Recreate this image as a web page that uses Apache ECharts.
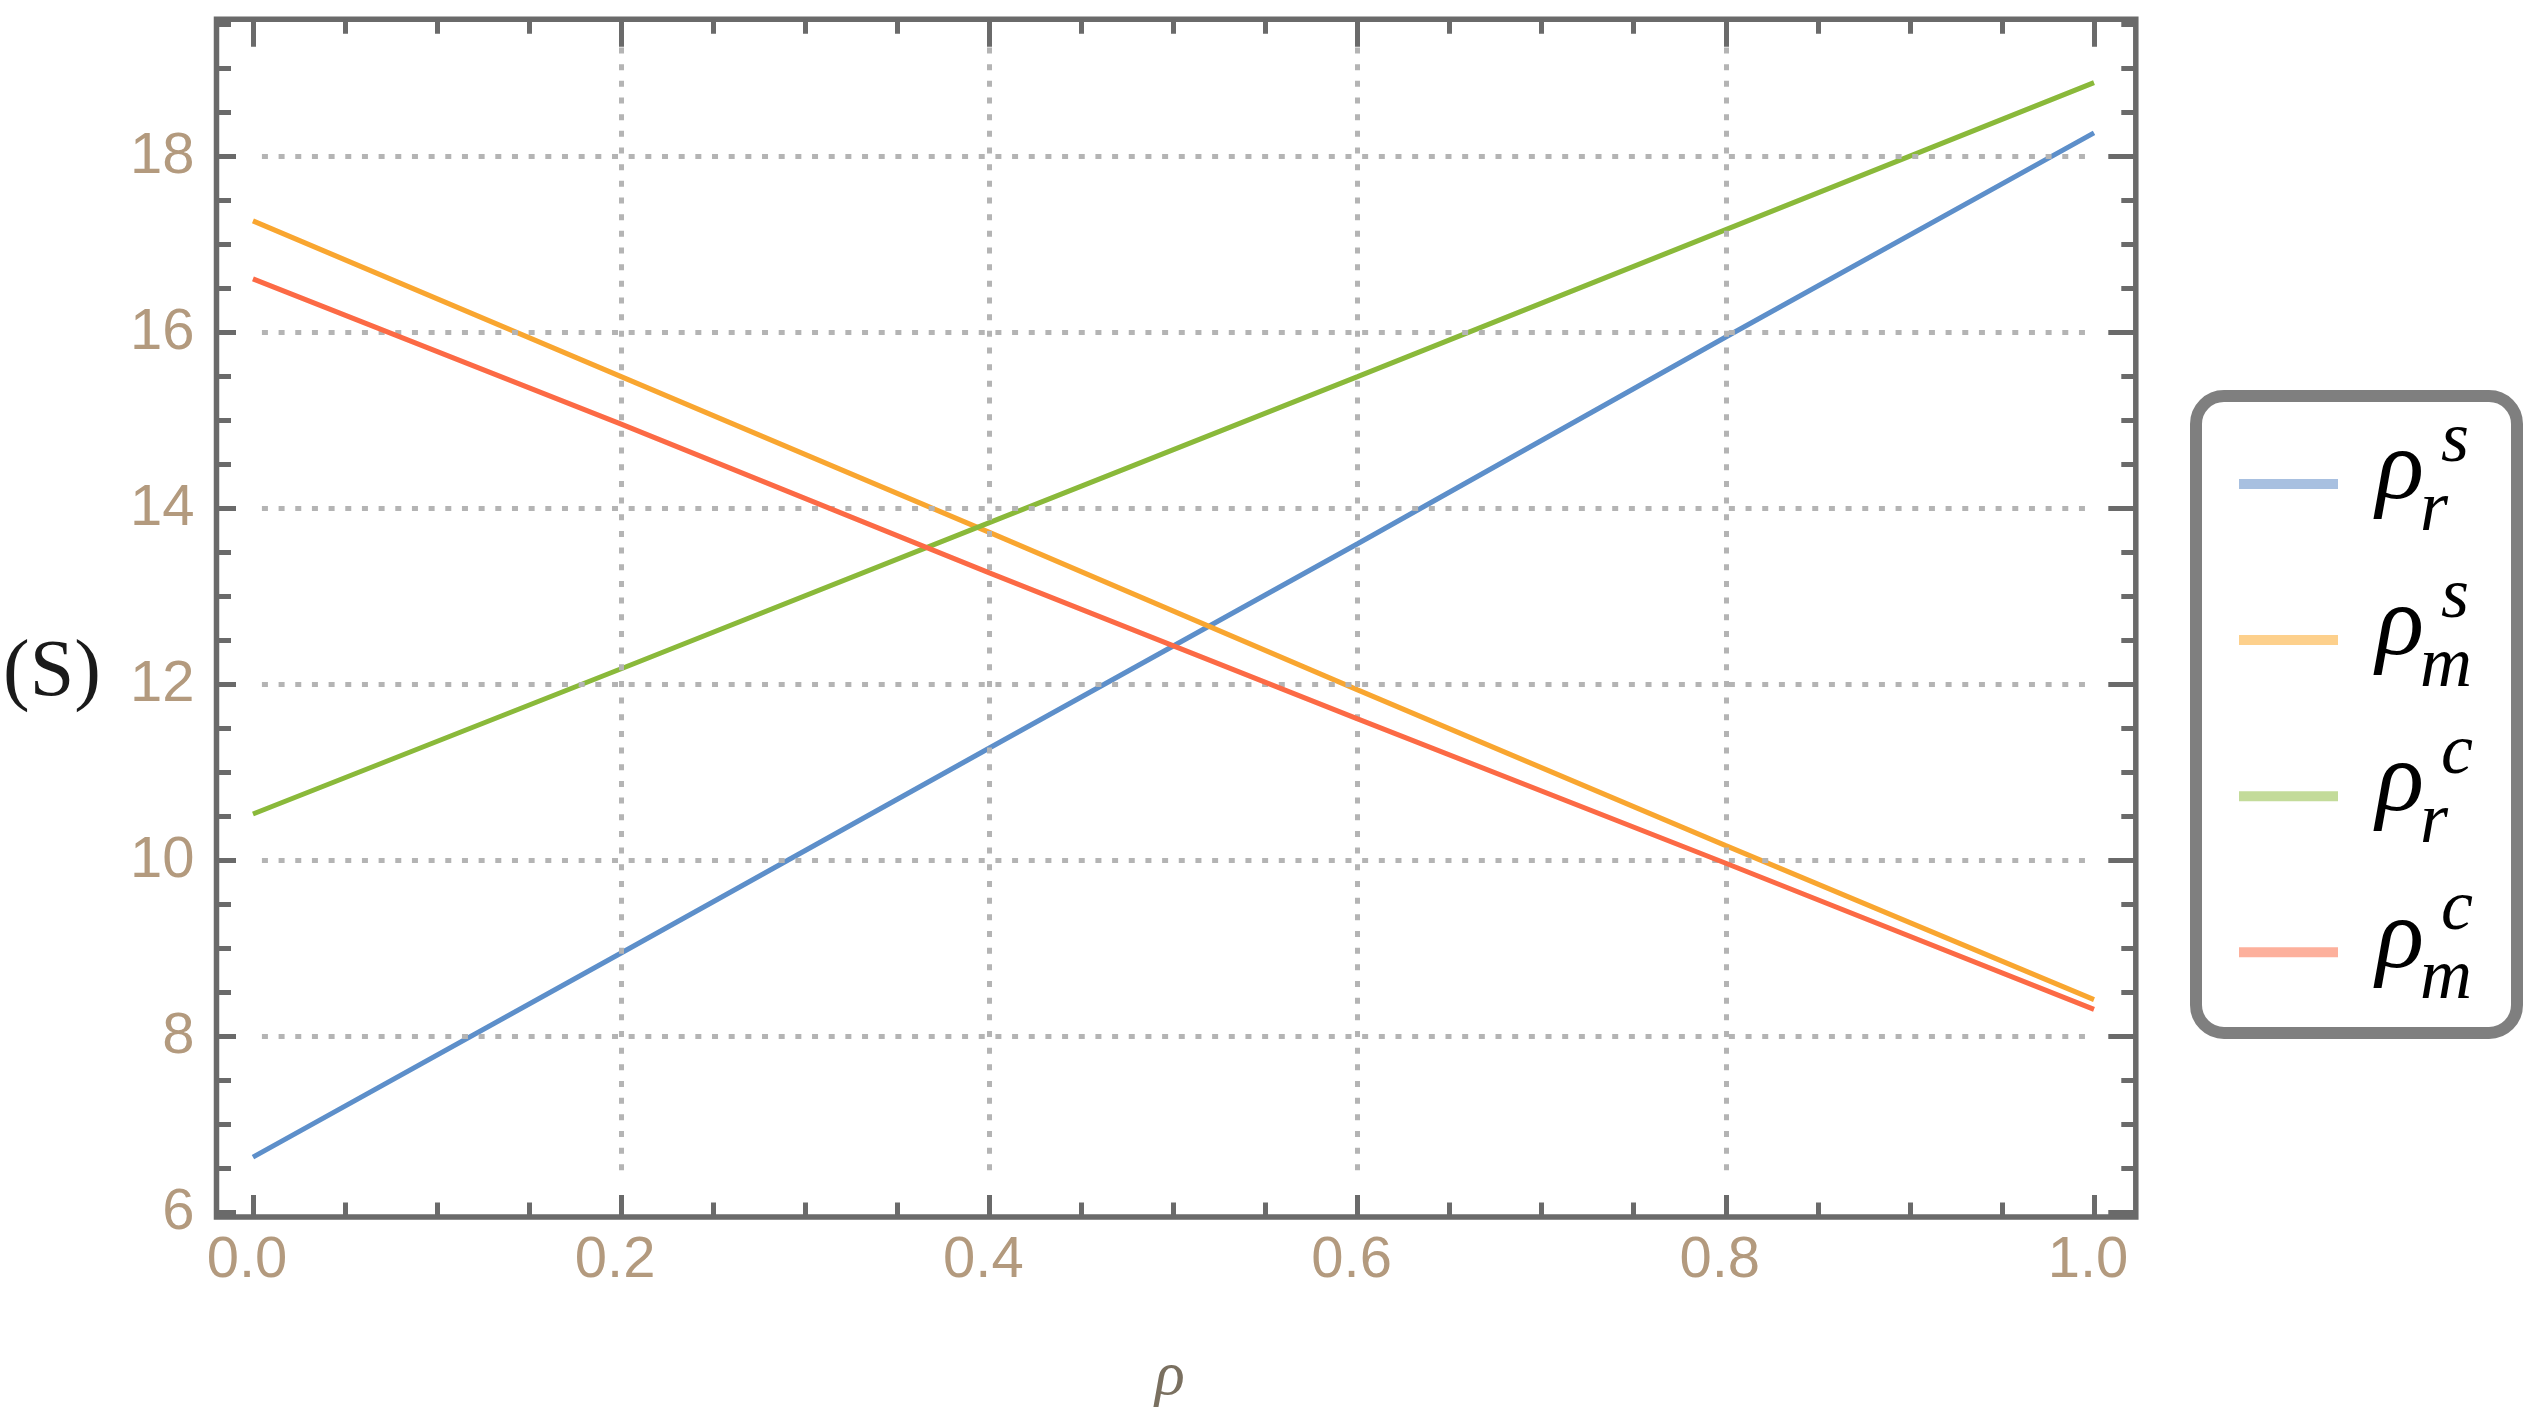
<!DOCTYPE html>
<html lang="en">
<head>
<meta charset="UTF-8">
<title>rho</title>
<script src="https://cdn.jsdelivr.net/npm/echarts@6/dist/echarts.min.js"></script>
<style>
    html, body { margin: 0; padding: 0; background: #fff; }
    #chart { width: 2538px; height: 1427px; }
</style>
</head>
<body>
<div id="chart"></div>
<script>
// values
var rho   = [0.0, 0.2, 0.4, 0.6, 0.8, 1.0];
var rhoRS = [6.63, 8.95, 11.28, 13.60, 15.95, 18.27];
var rhoMS = [17.27, 15.50, 13.73, 11.94, 10.17, 8.42];
var rhoRC = [10.53, 12.18, 13.84, 15.50, 17.17, 18.84];
var rhoMC = [16.61, 14.96, 13.27, 11.61, 9.97, 8.31];

var seriesNames = ['ρ_r^s', 'ρ_m^s', 'ρ_r^c', 'ρ_m^c'];
var legendSub = ['r', 'm', 'r', 'm'];
var legendSup = ['s', 's', 'c', 'c'];

// ticks / grid lines
var xMajor = [0, 0.2, 0.4, 0.6, 0.8, 1.0];
var xMinor = [0.05, 0.1, 0.15, 0.25, 0.3, 0.35, 0.45, 0.5, 0.55, 0.65, 0.7, 0.75, 0.85, 0.9, 0.95];
var yMajor = [6, 8, 10, 12, 14, 16, 18];
var yMinor = [6.5, 7, 7.5, 8.5, 9, 9.5, 10.5, 11, 11.5, 12.5, 13, 13.5, 14.5, 15, 15.5, 16.5, 17, 17.5, 18.5, 19, 19.5];
var xGrid = [0.2, 0.4, 0.6, 0.8];
var yGrid = [8, 10, 12, 14, 16, 18];

var X_MIN = -0.0198, X_MAX = 1.0227;
var Y_MIN = 5.95, Y_MAX = 19.56;

var FRAME = '#6a6a6a';
var LABEL = '#b39a7e';
var lineColors = ['#5d8fca', '#f9a630', '#8ab93a', '#fc6a45'];
var legendColors = ['#a8c0e0', '#fdd08c', '#c3db9a', '#fdb09c'];

function tickAxis(kind, pos, ticks, len, withLabels) {
    var ax = {
        type: 'value',
        position: pos,
        offset: 0,
        min: kind === 'x' ? X_MIN : Y_MIN,
        max: kind === 'x' ? X_MAX : Y_MAX,
        axisLine: { show: false, onZero: false },
        splitLine: { show: false },
        axisTick: {
            show: true, inside: true, length: len, customValues: ticks,
            lineStyle: { color: FRAME, width: 5 }
        },
        axisLabel: { show: false }
    };
    if (withLabels) {
        ax.axisLabel = {
            show: true,
            customValues: ticks,
            color: LABEL,
            fontFamily: 'Liberation Sans',
            fontSize: 58,
            margin: kind === 'x' ? 15 : 22,
            padding: kind === 'x' ? [0, 12, 0, 0] : [0, 0, 11, 0],
            formatter: function (v) { return kind === 'x' ? v.toFixed(1) : String(Math.round(v)); }
        };
    }
    return ax;
}

var gridLines = [];
yGrid.forEach(function (v) {
    gridLines.push([{ coord: [0, v], lineStyle: { dashOffset: 7.7 } }, { coord: [1.0, v] }]);
});
xGrid.forEach(function (v) {
    gridLines.push([{ coord: [v, 19.24] }, { coord: [v, 6.37] }]);
});

var allValues = [rhoRS, rhoMS, rhoRC, rhoMC];
var series = [{
    type: 'line',
    data: [],
    silent: true,
    z: 1,
    markLine: {
        silent: true,
        animation: false,
        symbol: ['none', 'none'],
        label: { show: false },
        emphasis: { disabled: true },
        lineStyle: { color: '#b4b4b4', width: 5, type: [6, 10.67], cap: 'butt' },
        data: gridLines
    }
}];
allValues.forEach(function (vals, i) {
    series.push({
        name: seriesNames[i],
        type: 'line',
        z: 2 + i,
        showSymbol: false,
        silent: true,
        data: rho.map(function (x, k) { return [x, vals[k]]; }),
        lineStyle: { color: lineColors[i], width: 5 },
        itemStyle: { color: lineColors[i] }
    });
});

// legend drawn by hand (stacked sub/superscripts)
var graphic = [{
    type: 'rect',
    shape: { x: 2196, y: 396, width: 321, height: 637, r: 28 },
    style: { fill: '#fff', stroke: '#7f7f7f', lineWidth: 12 }
}];
for (var i = 0; i < 4; i++) {
    var cy = 484 + i * 156.1;
    graphic.push({
        type: 'line',
        shape: { x1: 2239, y1: cy, x2: 2338, y2: cy },
        style: { stroke: legendColors[i], lineWidth: 10 }
    });
    graphic.push({
        type: 'text',
        style: { text: 'ρ', x: 2376, y: cy - 12, font: 'italic 100px "Liberation Serif"', fill: '#000', align: 'left', verticalAlign: 'middle' }
    });
    graphic.push({
        type: 'text',
        style: { text: legendSup[i], x: 2441, y: cy - 42, font: 'italic 72px "Liberation Serif"', fill: '#000', align: 'left', verticalAlign: 'middle' }
    });
    graphic.push({
        type: 'text',
        style: { text: legendSub[i], x: 2420, y: cy + 27, font: 'italic 72px "Liberation Serif"', fill: '#000', align: 'left', verticalAlign: 'middle' }
    });
}
// axis titles
graphic.push({
    type: 'text',
    style: { text: '(S)', x: 52, y: 674, font: '80px "Liberation Serif"', fill: '#1a1a1a', align: 'center', verticalAlign: 'middle' }
});
graphic.push({
    type: 'text',
    style: { text: 'ρ', x: 1170, y: 1378, font: 'italic 62px "Liberation Serif"', fill: '#7a7060', align: 'center', verticalAlign: 'middle' }
});

var myChart = echarts.init(document.getElementById('chart'));
myChart.setOption({
    backgroundColor: '#fff',
    animation: false,
    grid: {
        left: 216.5, right: 402.2, top: 19.3, bottom: 210,
        show: true, borderColor: FRAME, borderWidth: 5.5
    },
    xAxis: [
        tickAxis('x', 'bottom', xMajor, 22, true),
        tickAxis('x', 'bottom', xMinor, 14.5, false),
        tickAxis('x', 'top', xMajor, 27.5, false),
        tickAxis('x', 'top', xMinor, 14.5, false)
    ],
    yAxis: [
        tickAxis('y', 'left', yMajor, 19.5, true),
        tickAxis('y', 'left', yMinor, 14.5, false),
        tickAxis('y', 'right', yMajor, 27.5, false),
        tickAxis('y', 'right', yMinor, 14.5, false)
    ],
    series: series,
    graphic: graphic
});
</script>
</body>
</html>
